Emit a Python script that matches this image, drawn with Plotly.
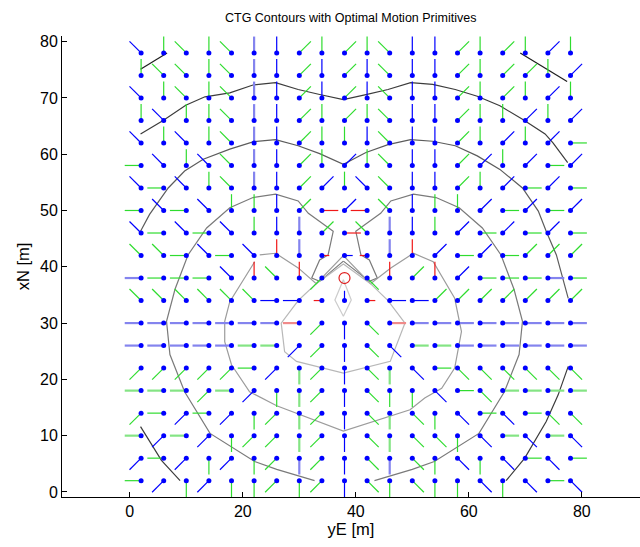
import plotly.graph_objects as go

# grid columns (yE) and rows (xN)
xs = [2, 6, 10, 14, 18, 22, 26, 30, 34, 38, 42, 46, 50, 54, 58, 62, 66, 70, 74, 78]
row_y = [78, 74, 70, 66, 62, 58, 54, 50, 46, 42, 38, 34, 30, 26, 22, 18, 14, 10, 6, 2]

# optimal motion primitive per grid point: colour code + heading
rows = [
    "bNW gN gNW gN gNW lbN bN gNE gN gNE gN gNW bN bN gNE gN gNE gN bNE gN",
    "gN gNW gNW gN gNW lbN bN gNE bN gNE bN gNW bN bN gNE gN gNE gNE gN bNE",
    "bNW gN gNW gN gNW lbN bN gNE bN gNE bN gNW bN bN gNE gN gNE gN bNE gN",
    "gN bNW gN gN gNW lbN bN gNE gN gNE gN gNW bN bN gNE gN gN bNE gN bNE",
    "bNW gN bNW gN gNW lbN bN gNE gN gN bN gNW bN bN gNE gN bNE gN bNE gE",
    "gW bNW gN bNW gNW lbN bN gNE gN bNE gN gNW bN bN gNE bNE gN bNE gE bNE",
    "bNW gW bNW gN gNW lbN bN gNE bNE gN bNW gNW bN bN gNE gN bNE gE bNE gE",
    "gW bNW gW bNW gN gN bN gNE rE bNE rW gNW bN gN gN bNE gE bNE gE bNE",
    "bNW gW bNW gW bNW gN bN lbN gNE rE gNW lbN bN gN bNE gE bNE gE bNE gE",
    "gNW gNW gW bNW gW bNW rN lbN rE*0.45 bE*0.5 rW*0.45 lbN rN bNE gE bNE gE gNE gNE gNE",
    "lbW gW gW gW bNW rN gNW rN gSW o gSE rN gNE rN bNE gE gE gE lbE gE",
    "gNW gNW gNW gNW gNW gNW bW bW rW*0.5 bN*0.6 rE*0.5 bE bE gNE gNE gNE gNE gNE gNE gNE",
    "lbW lbW lbW lbW lbW lbW lbW lrW gSW bS gSE lrE lbE lbE lbE lbE lbE lbE lbE lbE",
    "lbW lbW lbW lbW lbW lgW lgW bSW gSW bS gSE bSE lgE lgE lbE lbE lbE lbE lbE lbE",
    "gSW gSW gSW gSW gSW gW bSW lgS gSW bS gSE lgS bSE gE gSE gSE gSE gSE gSE gSE",
    "lgW lgW lgW gSW lgW bSW gS lgS gSW bS gSE gS gS bSE gE gSE lgE lgE lgE lgE",
    "gSW gW bSW gW bSW gS gSW lgS gSW bS gSE lgS gSE gS bSE gE bSE gE gSE gSE",
    "lgW bSW lgW bSW gS gSW gSW lgS gSW bS gSE lgS gSE gSE gS bSE lgE bSE lgE bSE",
    "bSW gW bSW gS bSW gS gSW lbS gSW bS gSE lbS gSE gS bSE gS bSE gE bSE gE",
    "gW bSW gS bSW gS gS gSW gS gSW bS gSE gS gSE gS gS bSE gS bSE gE bSE",
]

target = (38, 38)

# contour polylines (yE, xN)
contours = [
    # darkest level (corners at the top)
    ("#1e1e1e", [1.9, 6.6], [75.1, 78.0]),
    ("#1e1e1e", [69.1, 77.4], [78.0, 72.9]),
    # second level
    ("#3c3c3c",
     [1.9, 5.9, 9.9, 13.3, 17.7, 21.8, 25.8, 29.8, 33.6, 37.8, 41.8, 45.7, 49.7, 53.6, 57.6, 61.5, 65.5, 69.5, 73.5, 74.9, 77.5],
     [63.6, 66.0, 68.7, 70.2, 70.9, 72.3, 72.7, 71.5, 70.6, 69.7, 70.6, 71.5, 72.7, 72.4, 71.5, 70.3, 68.6, 66.2, 63.6, 62.0, 58.5]),
    ("#3c3c3c", [1.9, 5.6, 8.9], [11.6, 5.6, 2.0]),
    ("#3c3c3c", [77.6, 75.8, 73.7, 69.9, 66.6], [22.3, 17.2, 12.5, 6.0, 2.0]),
    # third level
    ("#5c5c5c",
     [1.9, 3.5, 6.8, 9.7, 13.0, 17.7, 21.8, 25.8, 29.8, 33.6, 37.8, 41.8, 45.7, 49.7, 53.6, 57.6, 61.5, 65.5, 69.5, 72.3, 73.7, 75.5, 77.6],
     [46.3, 49.3, 54.0, 57.0, 59.1, 60.9, 62.2, 62.6, 61.5, 60.1, 58.2, 60.3, 61.7, 62.6, 62.3, 61.5, 59.7, 57.3, 54.0, 49.9, 46.3, 42.1, 34.4]),
    # fourth level
    ("#7a7a7a",
     [32.7, 26.0, 22.1, 14.2, 9.7, 7.1, 6.5, 8.0, 10.3, 13.6, 17.7, 21.8, 25.8, 29.8, 31.6, 33.6, 36.0, 35.1, 33.6, 32.2, 33.6, 37.8],
     [2.0, 4.0, 5.4, 10.4, 17.8, 24.4, 30.3, 36.0, 42.1, 46.9, 50.5, 52.3, 52.9, 51.7, 49.5, 48.1, 46.3, 42.1, 41.2, 38.0, 37.4, 41.0]),
    ("#7a7a7a",
     [43.3, 50.0, 53.9, 61.8, 66.3, 68.9, 69.5, 68.0, 65.7, 62.4, 58.3, 54.2, 50.2, 46.2, 44.4, 42.4, 40.0, 40.9, 42.4, 43.8, 42.4, 37.8],
     [2.0, 4.0, 5.4, 10.4, 17.8, 24.4, 30.3, 36.0, 42.1, 46.9, 50.5, 52.3, 52.9, 51.7, 49.5, 48.1, 46.3, 42.1, 41.2, 38.0, 37.4, 41.0]),
    # fifth level
    ("#9c9c9c",
     [23.0, 25.8, 29.8, 33.0, 37.8, 42.6, 46.2, 50.2, 53.7, 57.5, 58.7, 57.5, 55.2, 52.2, 49.6, 37.8, 26.0, 21.2, 18.0, 16.8, 16.8, 17.7, 22.1],
     [42.1, 42.4, 39.8, 37.0, 42.0, 37.0, 39.8, 42.4, 40.9, 34.4, 28.5, 22.0, 18.4, 16.7, 14.6, 10.8, 15.3, 17.8, 22.6, 26.7, 30.3, 33.8, 40.9]),
    # sixth level
    ("#b8b8b8",
     [29.8, 26.8, 27.4, 29.5, 37.8, 46.1, 48.7, 45.7, 42.6, 37.8, 33.0, 29.8],
     [34.0, 30.0, 24.9, 23.2, 21.1, 23.2, 30.0, 34.0, 37.0, 40.5, 37.0, 34.0]),
    # innermost level
    ("#cccccc",
     [37.8, 36.3, 37.8, 39.2, 37.8],
     [37.7, 34.1, 31.2, 34.1, 37.7]),
]

DIRS = {"N": (0, 1), "S": (0, -1), "E": (1, 0), "W": (-1, 0),
        "NE": (0.7071, 0.7071), "NW": (-0.7071, 0.7071),
        "SE": (0.7071, -0.7071), "SW": (-0.7071, -0.7071)}
STYLE = {"b": ("#0000ff", 1.2), "g": ("#2fdc2f", 1.2), "r": ("#f01818", 1.2),
         "lb": ("#8484ee", 2.2), "lg": ("#84e484", 2.2), "lr": ("#f08a8a", 2.2)}
LEN = 2.9

segs = {k: ([], []) for k in STYLE}
dot_x, dot_y = [], []
for yv, row in zip(row_y, rows):
    for xv, tok in zip(xs, row.split()):
        if tok == "o":
            continue
        dot_x.append(xv)
        dot_y.append(yv)
        scale = 1.0
        if "*" in tok:
            tok, f = tok.split("*")
            scale = float(f)
        col = tok[:2] if tok[:2] in ("lb", "lg", "lr") else tok[:1]
        d = tok[len(col):]
        dx, dy = DIRS[d]
        sx, sy = segs[col]
        sx += [xv, xv + dx * LEN * scale, None]
        sy += [yv, yv + dy * LEN * scale, None]

fig = go.Figure()
for col, cx, cy in contours:
    fig.add_trace(go.Scatter(x=cx, y=cy, mode="lines", line=dict(color=col, width=1.2),
                             hoverinfo="skip", showlegend=False))
for k in ["lb", "lg", "lr", "b", "g", "r"]:
    sx, sy = segs[k]
    if sx:
        c, w = STYLE[k]
        fig.add_trace(go.Scatter(x=sx, y=sy, mode="lines", line=dict(color=c, width=w),
                                 hoverinfo="skip", showlegend=False))
fig.add_trace(go.Scatter(x=dot_x, y=dot_y, mode="markers",
                         marker=dict(color="#0000ff", size=5), showlegend=False))
fig.add_trace(go.Scatter(x=[target[0]], y=[target[1]], mode="markers",
                         marker=dict(symbol="circle-open", color="#e02020", size=11, line=dict(width=1.2)),
                         showlegend=False))

FONT = "Liberation Sans, Arial, sans-serif"
axis_common = dict(showgrid=False, zeroline=False, showline=True, linecolor="black", linewidth=1,
                   ticks="inside", ticklen=5, tickcolor="black", mirror=False,
                   tickfont=dict(family=FONT, size=16, color="black"))
fig.update_layout(
    width=640, height=547,
    margin=dict(l=62, r=0, t=36, b=50),
    paper_bgcolor="white", plot_bgcolor="white",
    title=dict(text="CTG Contours with Optimal Motion Primitives", x=0.548, xanchor="center",
               y=0.968, yanchor="middle",
               font=dict(family=FONT, size=12.5, color="black")),
    xaxis=dict(range=[-12, 90.3], tickvals=[0, 20, 40, 60, 80],
               title=dict(text="yE [m]", standoff=4,
                          font=dict(family=FONT, size=16.5, color="black")),
               **axis_common),
    yaxis=dict(range=[-0.9, 81], tickvals=[0, 10, 20, 30, 40, 50, 60, 70, 80],
               title=dict(text="xN [m]", standoff=6,
                          font=dict(family=FONT, size=16.5, color="black")),
               **axis_common),
)
fig.write_html("out.html")
